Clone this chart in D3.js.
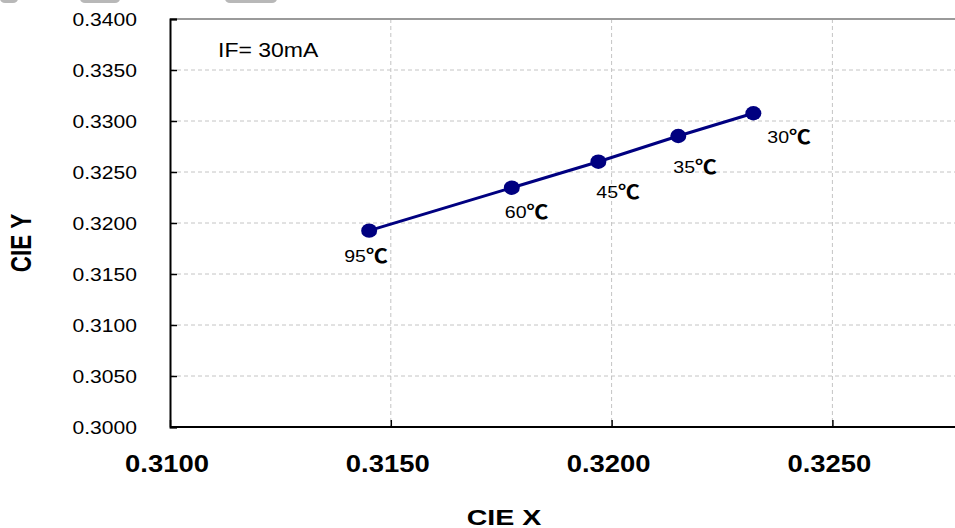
<!DOCTYPE html>
<html>
<head>
<meta charset="utf-8">
<style>
  body { margin: 0; background: #fff; }
  text { font-family: "Liberation Sans", Arial, "Noto Sans CJK SC", sans-serif; }
</style>
<script src="https://cdn.jsdelivr.net/npm/d3@7"></script>
</head>
<body>
<div id="container"></div>
<script>
  // data
  const temps = ["95", "60", "45", "35", "30"];
  const cieX = [0.31451, 0.31774, 0.31970, 0.32151, 0.32321];
  const cieY = [0.31925, 0.32346, 0.32601, 0.32853, 0.33076];
  const xTicks = [0.3100, 0.3150, 0.3200, 0.3250];
  const yTicks = [0.3000, 0.3050, 0.3100, 0.3150, 0.3200, 0.3250, 0.3300, 0.3350, 0.3400];
  // where each temperature label sits relative to its point
  const labelDx = [-25, -7, -2, -5, 14];
  const labelDy = [31, 30, 36, 37, 30];

  const width = 955;
  const height = 528;
  const plotLeft = 170, plotTop = 19, plotBottom = 427;

  const x = d3.scaleLinear().domain([0.31, 0.33]).range([plotLeft, plotLeft + 4 * 220.8]);
  const y = d3.scaleLinear().domain([0.30, 0.34]).range([plotBottom, plotTop]);

  // the source picture is stretched sideways, so text is too
  const place = (px, py, sx) => `translate(${px},${py}) scale(${sx},1)`;

  const svg = d3.create("svg")
    .attr("width", width)
    .attr("height", height);

  // faint bits cut off at the top edge
  svg.append("g").attr("fill", "#b8b8b8")
    .selectAll("rect")
    .data([[0, 18], [80, 40], [225, 52]])
    .join("rect")
    .attr("x", d => d[0]).attr("y", -6)
    .attr("width", d => d[1]).attr("height", 9)
    .attr("rx", 5);

  // grid
  svg.append("g")
    .selectAll("line")
    .data(yTicks.slice(1))
    .join("line")
    .attr("x1", plotLeft).attr("x2", width)
    .attr("y1", d => y(d)).attr("y2", d => y(d))
    .attr("stroke", "#c4c4c4")
    .attr("stroke-dasharray", "4,3");

  svg.append("g")
    .selectAll("line")
    .data(xTicks.slice(1))
    .join("line")
    .attr("x1", d => x(d)).attr("x2", d => x(d))
    .attr("y1", plotTop).attr("y2", plotBottom)
    .attr("stroke", "#c4c4c4")
    .attr("stroke-dasharray", "4,3");

  // top border
  svg.append("line")
    .attr("x1", plotLeft).attr("x2", width)
    .attr("y1", plotTop).attr("y2", plotTop)
    .attr("stroke", "#9a9a9a")
    .attr("stroke-width", 2);

  // y axis
  const yAxis = svg.append("g")
    .attr("transform", `translate(${plotLeft},0)`)
    .call(d3.axisRight(y).tickValues(yTicks).tickSize(7).tickFormat(""));
  yAxis.select(".domain").attr("stroke", "#000").attr("stroke-width", 2);
  yAxis.selectAll(".tick line").attr("stroke", "#000").attr("stroke-width", 1.5);

  svg.append("g")
    .selectAll("text")
    .data(yTicks)
    .join("text")
    .attr("transform", d => place(137, y(d), 1.14))
    .attr("dy", "0.36em")
    .attr("text-anchor", "end")
    .attr("font-size", 18.5)
    .attr("fill", "#000")
    .text(d => d3.format(".4f")(d));

  // x axis
  const xAxis = svg.append("g")
    .attr("transform", `translate(0,${plotBottom})`)
    .call(d3.axisTop(x).tickValues(xTicks).tickSize(7).tickFormat(""));
  xAxis.select(".domain").attr("stroke", "#000").attr("stroke-width", 2)
    .attr("d", `M${plotLeft},0H${width}`);
  xAxis.selectAll(".tick line").attr("stroke", "#000").attr("stroke-width", 1.5);

  svg.append("g")
    .selectAll("text")
    .data(xTicks)
    .join("text")
    .attr("transform", d => place(x(d) - 3, 472, 1.12))
    .attr("text-anchor", "middle")
    .attr("font-size", 24.5)
    .attr("font-weight", "bold")
    .attr("fill", "#000")
    .text(d => d3.format(".4f")(d));

  // axis titles
  svg.append("text")
    .attr("transform", place(504, 525, 1.3))
    .attr("text-anchor", "middle")
    .attr("font-size", 22)
    .attr("font-weight", "bold")
    .text("CIE X");

  svg.append("text")
    .attr("transform", "translate(31,243) scale(1.3,1) rotate(-90)")
    .attr("text-anchor", "middle")
    .attr("font-size", 22.5)
    .attr("font-weight", "bold")
    .text("CIE Y");

  svg.append("text")
    .attr("transform", place(218, 56.5, 1.18))
    .attr("font-size", 19.5)
    .text("IF= 30mA");

  // series
  const points = temps.map((t, i) => ({ t, x: cieX[i], y: cieY[i], dx: labelDx[i], dy: labelDy[i] }));

  svg.append("path")
    .datum(points)
    .attr("fill", "none")
    .attr("stroke", "#000080")
    .attr("stroke-width", 3)
    .attr("d", d3.line().x(d => x(d.x)).y(d => y(d.y)));

  svg.append("g")
    .selectAll("ellipse")
    .data(points)
    .join("ellipse")
    .attr("cx", d => x(d.x))
    .attr("cy", d => y(d.y))
    .attr("rx", 8)
    .attr("ry", 7.2)
    .attr("fill", "#000080");

  const labels = svg.append("g")
    .selectAll("text")
    .data(points)
    .join("text")
    .attr("transform", d => place(x(d.x) + d.dx, y(d.y) + d.dy, 1.15))
    .attr("font-size", 17)
    .attr("fill", "#000");
  labels.append("tspan").text(d => d.t);
  labels.append("tspan")
    .style("font-family", "'Noto Sans CJK SC', sans-serif")
    .attr("font-size", 19)
    .attr("font-weight", "bold")
    .attr("dy", 1)
    .text("℃");

  container.append(svg.node());
</script>
</body>
</html>
